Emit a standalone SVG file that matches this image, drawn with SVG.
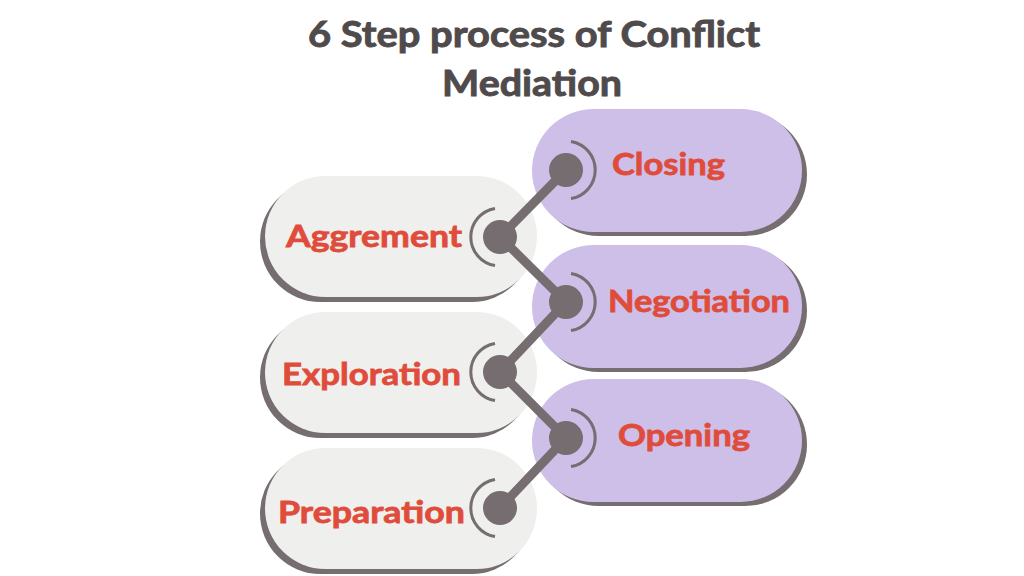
<svg xmlns="http://www.w3.org/2000/svg" width="1024" height="576" viewBox="0 0 1024 576">
<style>
.title{font-family:"Lato","Liberation Sans",sans-serif;font-weight:700;font-size:36px;fill:#4f4a4b;stroke:#4f4a4b;stroke-width:0.9;text-anchor:start}
.lbl{font-family:"Lato","Liberation Sans",sans-serif;font-weight:700;font-size:31px;fill:#e04c3b;stroke:#e04c3b;stroke-width:0.8}
.gbody{fill:#efefed}
.pbody{fill:#cdbfe8}
.shadow{fill:#756d70}
.link{stroke:#756d70;stroke-width:9;fill:none;stroke-linecap:round}
.dot{fill:#756d70}
.ring{stroke:#756d70;stroke-width:3;fill:none}
</style>
<rect width="1024" height="576" fill="#ffffff"/>
<g id="title">
<text class="title" x="308" y="47" textLength="452" lengthAdjust="spacingAndGlyphs">6 Step process of Conflict</text>
<text class="title" x="442" y="96" textLength="180" lengthAdjust="spacingAndGlyphs">Mediation</text>
</g>
<g id="aggrement">
<rect class="shadow" x="260" y="181" width="272" height="121" rx="60.5"/>
<rect class="gbody" x="265" y="176" width="272" height="121" rx="60.5"/>
<text class="lbl" x="286" y="247" textLength="176" lengthAdjust="spacingAndGlyphs">Aggrement</text>
</g>
<g id="exploration">
<rect class="shadow" x="260" y="317" width="272" height="121" rx="60.5"/>
<rect class="gbody" x="265" y="312" width="272" height="121" rx="60.5"/>
<text class="lbl" x="282" y="385" textLength="179" lengthAdjust="spacingAndGlyphs">Exploration</text>
</g>
<g id="preparation">
<rect class="shadow" x="260" y="453" width="272" height="121" rx="60.5"/>
<rect class="gbody" x="265" y="448" width="272" height="121" rx="60.5"/>
<text class="lbl" x="278" y="523" textLength="187" lengthAdjust="spacingAndGlyphs">Preparation</text>
</g>
<g id="closing">
<rect class="shadow" x="537" y="113" width="270" height="123" rx="61.5"/>
<rect class="pbody" x="532" y="109" width="270" height="123" rx="61.5"/>
<text class="lbl" x="612" y="175" textLength="113" lengthAdjust="spacingAndGlyphs">Closing</text>
</g>
<g id="negotiation">
<rect class="shadow" x="537" y="249" width="270" height="123" rx="61.5"/>
<rect class="pbody" x="532" y="245" width="270" height="123" rx="61.5"/>
<text class="lbl" x="608" y="312" textLength="182" lengthAdjust="spacingAndGlyphs">Negotiation</text>
</g>
<g id="opening">
<rect class="shadow" x="537" y="383" width="270" height="123" rx="61.5"/>
<rect class="pbody" x="532" y="379" width="270" height="123" rx="61.5"/>
<text class="lbl" x="618" y="446" textLength="132" lengthAdjust="spacingAndGlyphs">Opening</text>
</g>
<g id="connectors">
<polyline class="link" points="566,170 500,237 566,302 500,372 566,438 500,508"/>
<circle class="dot" cx="566" cy="170" r="17"/>
<circle class="dot" cx="500" cy="237" r="17"/>
<circle class="dot" cx="566" cy="302" r="17"/>
<circle class="dot" cx="500" cy="372" r="17"/>
<circle class="dot" cx="566" cy="438" r="17"/>
<circle class="dot" cx="500" cy="508" r="17"/>
<path class="ring" d="M571,141.4 A29,29 0 0 1 571,198.6"/>
<path class="ring" d="M571,273.4 A29,29 0 0 1 571,330.6"/>
<path class="ring" d="M571,409.4 A29,29 0 0 1 571,466.6"/>
<path class="ring" d="M495,208.4 A29,29 0 0 0 495,265.6"/>
<path class="ring" d="M495,343.4 A29,29 0 0 0 495,400.6"/>
<path class="ring" d="M495,479.4 A29,29 0 0 0 495,536.6"/>
</g>
</svg>
